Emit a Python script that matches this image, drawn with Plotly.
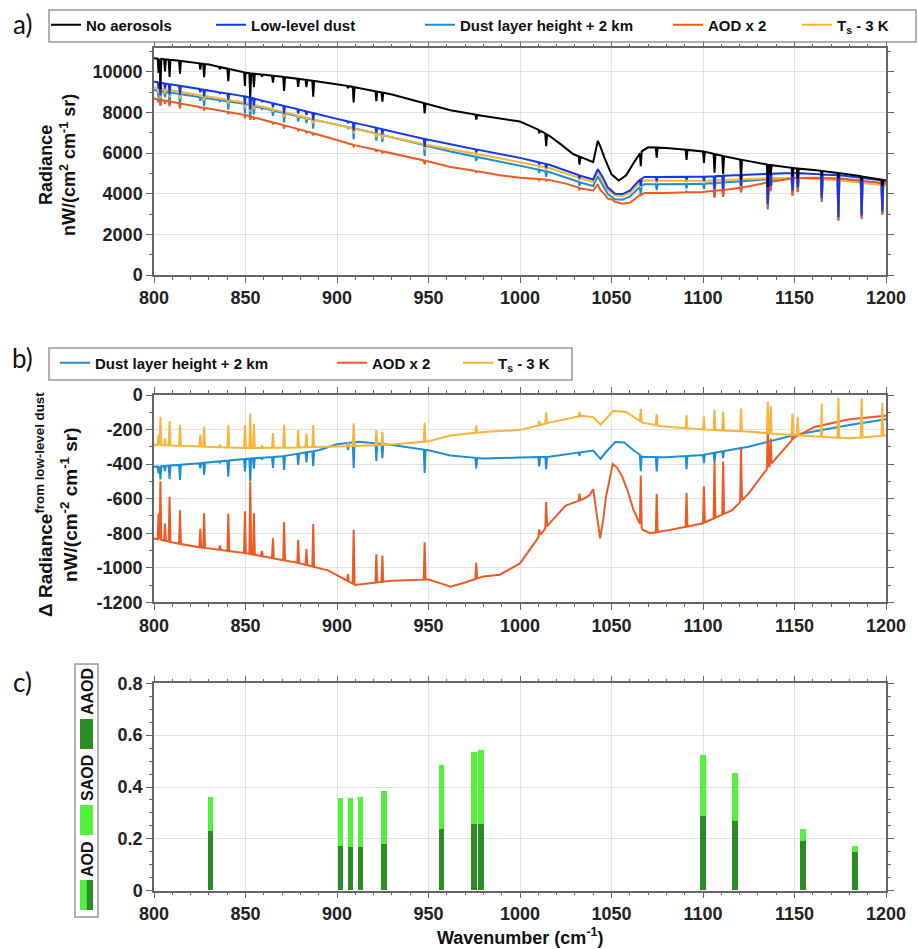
import numpy as np
import plotly.graph_objects as go

W, H = 918, 949
FONT = "Liberation Sans, Arial, sans-serif"

# ---------------- data ----------------
# absorption-line positions (cm-1) shared by all spectra
LINES = [802.5, 803.5, 806.0, 808.5, 814.2, 825.3, 827.4, 836.0, 840.6, 849.7,
         852.6, 854.6, 859.0, 865.0, 871.1, 878.8, 883.3, 887.0, 906.0, 909.1,
         921.5, 924.8, 947.9, 976.1, 1010.5, 1014.3, 1032.5, 1066.0, 1074.7, 1091.0,
         1100.5, 1106.3, 1111.0, 1120.8, 1135.4, 1137.0, 1148.9, 1151.8, 1164.9, 1174.0,
         1186.7, 1198.0]

# Panel a: No aerosols (continuum knots + line depths)
NOAER_X = [800, 810, 830, 850, 870, 900, 930, 950, 962, 980, 1000, 1010, 1016, 1022,
           1029, 1036, 1040, 1042.5, 1044, 1046, 1050, 1054, 1058, 1062, 1066, 1070,
           1080, 1100, 1116, 1136, 1150, 1162, 1180, 1200]
NOAER_Y = [10660, 10580, 10350, 9950, 9750, 9400, 8880, 8400, 8100, 7820, 7550, 7150,
           6850, 6450, 5950, 5700, 5550, 6600, 6300, 5800, 4950, 4650, 4900, 5500, 6050,
           6280, 6250, 6080, 5750, 5420, 5250, 5150, 4950, 4650]
NOAER_LINE = [-700, -1500, -600, -850, -630, -300, -650, -100, -610, -660,
              -1180, -670, -100, -340, -680, -390, -350, -780, -100, -760,
              -480, -450, -500, -230, -150, -600, -400, -700, -500, -500,
              -560, -920, -900, -970, -1100, -500, -420, -480, -250, -250,
              -200, -300]

# Panel a: Low-level dust
LOW_X = [800, 850, 900, 950, 962, 1000, 1016, 1034, 1040, 1042.5, 1045, 1048, 1052,
         1056, 1060, 1065, 1068, 1100, 1136, 1150, 1175, 1200]
LOW_Y = [9510, 8780, 7680, 6650, 6420, 5760, 5420, 4850, 4700, 5200, 4850, 4300, 4000,
         3980, 4150, 4650, 4820, 4830, 4980, 5020, 4900, 4630]
LOW_LINE = [-300, -630, -250, -500, -450, -150, -330, -50, -310, -400,
            -580, -350, -50, -200, -380, -200, -180, -350, -60, -390,
            -250, -250, -390, -150, -100, -200, -150, -320, -200, -150,
            -200, -650, -650, -530, -1480, -600, -870, -700, -1150, -2050,
            -1850, -1540]

# Panel b: differences from low-level dust
DH_X = [800, 820, 850, 870, 890, 900, 912, 930, 950, 962, 980, 1000, 1016, 1034, 1040,
        1044, 1047, 1052, 1057, 1062, 1067, 1080, 1100, 1125, 1150, 1180, 1200]
DH_Y = [-415, -400, -370, -355, -320, -285, -270, -290, -320, -350, -368, -362, -358,
        -330, -322, -370, -330, -272, -275, -320, -357, -360, -347, -299, -231, -174, -140]
DH_LINE = [-40, -77, -30, -78, -88, -30, -68, -10, -93, -72,
           -130, -60, -10, -64, -81, -65, -58, -87, -40, -148,
           -101, -82, -135, -61, -54, -71, -20, -91, -83, -77,
           -48, -57, -39, -14, 0, 0, 0, 0, 0, 0,
           0, 0]

AOD2_X = [800, 820, 850, 880, 895, 903, 910, 918, 930, 950, 958, 962, 970, 980, 989,
          1000, 1011, 1016, 1025, 1034, 1038, 1040, 1042, 1043.8, 1045.5, 1047, 1050.7,
          1053, 1056, 1059, 1062, 1067, 1071, 1080, 1100, 1116, 1125, 1134, 1138, 1150,
          1161, 1180, 1200]
AOD2_Y = [-830, -875, -915, -975, -1015, -1060, -1100, -1090, -1075, -1068, -1095, -1110,
          -1085, -1050, -1040, -975, -810, -745, -640, -605, -580, -545, -700, -830, -720,
          -590, -400, -420, -475, -560, -665, -780, -800, -785, -743, -666, -570, -440,
          -390, -245, -185, -140, -120]
AOD2_LINE = [150, 338, 100, 260, 194, 108, 200, 25, 217, 242,
             420, 240, 30, 115, 221, 135, 92, 247, 40, 314,
             163, 152, 216, 94, 40, 147, 40, 291, 222, 195,
             212, 320, 305, 307, 241, 150, 20, 0, 0, 0,
             0, 0]

TS_X = [800, 830, 850, 870, 895, 910, 930, 950, 962, 980, 1000, 1016, 1025, 1034, 1040,
        1044, 1047, 1051, 1058, 1063, 1067, 1079, 1100, 1125, 1140, 1150, 1165, 1180, 1200]
TS_Y = [-289, -300, -307, -305, -300, -295, -287, -268, -235, -214, -203, -160, -140,
        -120, -128, -172, -140, -92, -98, -135, -160, -183, -200, -212, -225, -232, -242,
        -251, -235]
TS_LINE = [60, 164, 40, 142, 121, 68, 117, 15, 129, 132,
           201, 140, 15, 84, 133, 100, 80, 128, 20, 132,
           87, 76, 109, 42, 25, 64, 25, 73, 64, 76,
           75, 117, 108, 131, 182, 157, 124, 107, 192, 232,
           226, 192]

# Panel c: aerosol optical depth per channel
BAR_WN = [831, 902, 907.5, 912.8, 925.7, 957, 974.8, 978.8, 1100, 1117.4, 1154.7, 1183]
AOD = [0.359, 0.355, 0.355, 0.362, 0.382, 0.485, 0.535, 0.541, 0.524, 0.451, 0.236, 0.170]
AAOD = [0.228, 0.172, 0.167, 0.168, 0.180, 0.235, 0.256, 0.258, 0.288, 0.266, 0.189, 0.147]

YB_TICKS = list(range(-1200, 1, 200))
YB_TEXT = [str(v) for v in YB_TICKS]

# ---------------- helpers ----------------
def poly(kx, ky, amps, hw=0.5):
    kx = np.asarray(kx, float)
    ky = np.asarray(ky, float)
    parts = [kx]
    centers = []
    for c, a in zip(LINES, amps):
        if a != 0:
            parts.append(np.array([c - hw, c, c + hw]))
            centers.append((c, a))
    x = np.unique(np.round(np.concatenate(parts), 4))
    y = np.interp(x, kx, ky)
    for c, a in centers:
        y[np.isclose(x, c)] += a
    return x, y


def combine(*polys):
    grid = np.unique(np.concatenate([p[0] for p in polys]))
    tot = np.zeros_like(grid)
    for px, py in polys:
        tot += np.interp(grid, px, py)
    return grid, tot


noaer = poly(NOAER_X, NOAER_Y, NOAER_LINE)
low = poly(LOW_X, LOW_Y, LOW_LINE)
d_dh = poly(DH_X, DH_Y, DH_LINE)
d_aod = poly(AOD2_X, AOD2_Y, AOD2_LINE)
d_ts = poly(TS_X, TS_Y, TS_LINE)
dh_abs = combine(low, d_dh)
aod_abs = combine(low, d_aod)
ts_abs = combine(low, d_ts)

C_BLACK = "#000000"
C_BLUE = "#1038F0"
C_LBLUE = "#1E8ED2"
C_ORANGE = "#EE5A24"
C_YELLOW = "#F7B53A"
C_LGREEN = "#52F23C"
C_DGREEN = "#2B8C23"

fig = go.Figure()

def line_trace(xy, color, name, xa, ya, leg, show=True):
    return go.Scatter(x=xy[0], y=xy[1], mode="lines", name=name,
                      line=dict(color=color, width=2), xaxis=xa, yaxis=ya,
                      legend=leg, showlegend=show)

# panel a
fig.add_trace(line_trace(dh_abs, C_LBLUE, "Dust layer height + 2 km", "x", "y", "legend3"))
fig.add_trace(line_trace(ts_abs, C_YELLOW, "T<sub>s</sub> - 3 K", "x", "y", "legend5"))
fig.add_trace(line_trace(aod_abs, C_ORANGE, "AOD x 2", "x", "y", "legend4"))
fig.add_trace(line_trace(low, C_BLUE, "Low-level dust", "x", "y", "legend2"))
fig.add_trace(line_trace(noaer, C_BLACK, "No aerosols", "x", "y", "legend"))
# panel b
fig.add_trace(line_trace(d_dh, C_LBLUE, "Dust layer height + 2 km", "x2", "y2", "legend6"))
fig.add_trace(line_trace(d_aod, C_ORANGE, "AOD x 2", "x2", "y2", "legend7"))
fig.add_trace(line_trace(d_ts, C_YELLOW, "T<sub>s</sub> - 3 K", "x2", "y2", "legend8"))
# panel c
SAOD = [t - a for t, a in zip(AOD, AAOD)]
fig.add_trace(go.Bar(x=BAR_WN, y=AAOD, width=3, marker=dict(color=C_DGREEN, line=dict(width=0)),
                     xaxis="x3", yaxis="y3", showlegend=False, name="AAOD"))
fig.add_trace(go.Bar(x=BAR_WN, y=SAOD, width=3, marker=dict(color=C_LGREEN, line=dict(width=0)),
                     xaxis="x3", yaxis="y3", showlegend=False, name="SAOD"))

# ---------------- layout ----------------
def px_x(p):
    return p / W

def px_y(p):
    return 1 - p / H

XD = [px_x(154), px_x(886)]
AXC = "#666666"
TICKFONT = dict(family=FONT, size=18, color="#222222", weight="bold")

def xaxis(anchor):
    return dict(domain=XD, anchor=anchor, range=[800, 1200], tickmode="linear", tick0=800,
                dtick=50, showgrid=True, gridcolor="#e2e2e2", gridwidth=1, showline=True,
                linecolor=AXC, linewidth=1.5, mirror="ticks", ticks="outside", ticklen=6,
                tickwidth=1.2, tickcolor=AXC, zeroline=False, tickfont=TICKFONT,
                automargin=False,
                minor=dict(tickmode="linear", tick0=800, dtick=10, ticks="outside", ticklen=3,
                           tickcolor=AXC, tickwidth=1, showgrid=False))

def yaxis(anchor, dom, rng, **kw):
    d = dict(domain=dom, anchor=anchor, range=rng, showgrid=True, gridcolor="#e2e2e2",
             gridwidth=1, showline=True, linecolor=AXC, linewidth=1.5, mirror="ticks",
             ticks="outside", ticklen=6, tickwidth=1.2, tickcolor=AXC, zeroline=False,
             tickfont=TICKFONT, automargin=False)
    d.update(kw)
    return d

layout = dict(
    template="none",
    width=W, height=H, margin=dict(l=0, r=0, t=0, b=0, pad=0), autosize=False,
    paper_bgcolor="white", plot_bgcolor="white", barmode="stack", bargap=0,
    xaxis=xaxis("y"), xaxis2=xaxis("y2"), xaxis3=xaxis("y3"),
    yaxis=yaxis("x", [px_y(275), px_y(48.3)], [0, 11150], tickmode="linear", tick0=0,
                dtick=2000, tickformat="d",
                minor=dict(tickmode="linear", tick0=0, dtick=1000, ticks="outside", ticklen=3,
                           tickcolor=AXC, showgrid=False)),
    yaxis2=yaxis("x2", [px_y(602.3), px_y(395)], [-1200, 0], tickmode="array",
                 tickvals=YB_TICKS, ticktext=YB_TEXT,
                 minor=dict(tickmode="linear", tick0=0, dtick=100, ticks="outside", ticklen=3,
                            tickcolor=AXC, showgrid=False)),
    yaxis3=yaxis("x3", [px_y(890.7), px_y(683.3)], [0, 0.8], tickmode="linear", tick0=0,
                 dtick=0.2,
                 minor=dict(tickmode="linear", tick0=0, dtick=0.05, ticks="outside", ticklen=3,
                            tickcolor=AXC, showgrid=False)),
)

LEGFONT = dict(family=FONT, size=15, color="#111111", weight="bold")
leg_pos = {"legend": (46, 25), "legend2": (211, 25), "legend3": (420, 25),
           "legend4": (668, 25), "legend5": (797, 25),
           "legend6": (55, 363), "legend7": (332, 363), "legend8": (458, 363)}
for k, (lx, ly) in leg_pos.items():
    layout[k] = dict(x=px_x(lx), y=px_y(ly), xanchor="left", yanchor="middle",
                     bgcolor="rgba(0,0,0,0)", borderwidth=0, font=LEGFONT,
                     orientation="h", itemwidth=30)

shapes = []
def rect(x0, y0, x1, y1, **kw):
    d = dict(type="rect", xref="paper", yref="paper", x0=px_x(x0), x1=px_x(x1),
             y0=px_y(y1), y1=px_y(y0))
    d.update(kw)
    return d

shapes.append(rect(49, 10, 916, 42, line=dict(color="#999999", width=1.5)))
shapes.append(rect(49, 348, 572, 380, line=dict(color="#999999", width=1.5)))
# panel c legend
shapes.append(rect(75, 664, 98, 917, line=dict(color="#999999", width=1.5)))
shapes.append(rect(80, 880, 86.5, 910, line=dict(width=0), fillcolor=C_LGREEN))
shapes.append(rect(86.5, 880, 93, 910, line=dict(width=0), fillcolor=C_DGREEN))
shapes.append(rect(80, 805, 93, 835, line=dict(width=0), fillcolor=C_LGREEN))
shapes.append(rect(80, 719, 93, 749, line=dict(width=0), fillcolor=C_DGREEN))
layout["shapes"] = shapes

def ann(text, x, y, size, angle=0, family=FONT, weight="bold", **kw):
    d = dict(text=text, x=px_x(x), y=px_y(y), xref="paper", yref="paper", showarrow=False,
             textangle=angle, xanchor="center", yanchor="middle",
             font=dict(family=family, size=size, color="#111111", weight=weight))
    d.update(kw)
    return d

annotations = [
    ann("a)", 22, 24, 26, family="Lato, Open Sans, sans-serif", weight="normal"),
    ann("b)", 22, 358, 26, family="Lato, Open Sans, sans-serif", weight="normal"),
    ann("c)", 22, 682, 26, family="Lato, Open Sans, sans-serif", weight="normal"),
    ann("Radiance<br>nW/(cm<sup>2</sup> cm<sup>-1</sup> sr)", 57, 165, 18, angle=-90),
    ann("\u0394 Radiance<sup>from low-level dust</sup><br>nW/(cm<sup>-2</sup> cm<sup>-1</sup> sr)",
        56, 505, 19, angle=-90),
    ann("Wavenumber (cm<sup>-1</sup>)", 520, 936, 18),
    ann("AOD", 87, 859, 16, angle=-90),
    ann("SAOD", 87, 778, 16, angle=-90),
    ann("AAOD", 87, 692, 16, angle=-90),
]
layout["annotations"] = annotations

fig.update_layout(**layout)
fig.write_html("out.html")
